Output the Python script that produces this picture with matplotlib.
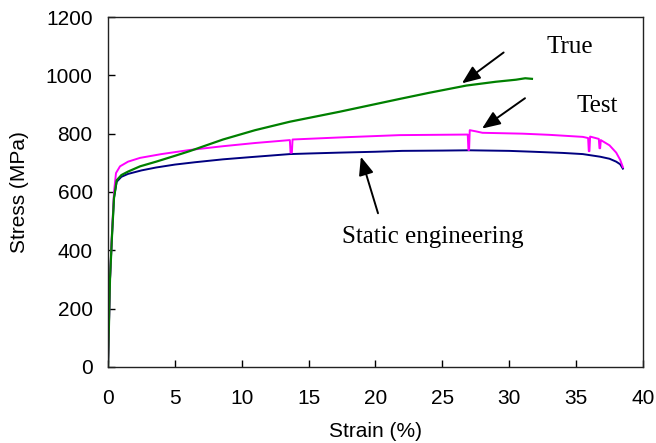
import matplotlib
matplotlib.use("Agg")
import matplotlib.pyplot as plt

# ---- data (strain %, stress MPa) ----
static_x = [0, 0.05, 0.15, 0.3, 0.45, 0.65, 1.0, 1.5, 2.5, 3.6, 5, 6.5, 8.6, 10.5, 13.6, 15,
            17.3, 20, 22, 25, 27, 30, 31.8, 34, 35.5, 36.8, 37.5, 38.0, 38.3, 38.5]
static_y = [0, 100, 300, 450, 580, 635, 652, 662, 674, 684, 694, 702, 712, 719, 730, 732,
            735, 738, 741, 742, 743, 741, 738, 734, 730, 721, 714, 704, 695, 680]

test_x = [0, 0.05, 0.15, 0.3, 0.45, 0.6, 0.9, 1.5, 2.4, 4, 6.1, 8.6, 11, 13.6, 13.65, 13.75,
          13.8, 17.3, 21.8, 26.9, 26.95, 27.0, 27.05, 27.5, 28, 31, 33, 35.5, 35.9, 35.95,
          36.0, 36.05, 36.7, 36.75, 36.8, 36.85, 37.5, 38.0, 38.3, 38.5]
test_y = [0, 100, 300, 460, 600, 665, 688, 704, 717, 730, 744, 757, 768, 778, 735, 735,
          780, 787, 795, 797, 744, 744, 812, 808, 803, 800, 796, 789, 785, 740,
          740, 790, 782, 750, 750, 778, 760, 735, 710, 685]

true_x = [0, 0.05, 0.15, 0.3, 0.45, 0.65, 1.0, 1.5, 2.4, 3.6, 5, 6.1, 8.6, 11, 13.6, 17.3,
          21.8, 24, 26.8, 29, 30.5, 31.2, 31.7]
true_y = [0, 100, 300, 450, 580, 640, 658, 670, 688, 704, 724, 740, 780, 812, 841, 875,
          919, 940, 965, 978, 985, 990, 988]

xticks = [0, 5, 10, 15, 20, 25, 30, 35, 40]
yticks = [0, 200, 400, 600, 800, 1000, 1200]

fig = plt.figure(figsize=(6.56, 4.43), dpi=100)
ax = fig.add_axes([0.1646, 0.1716, 0.8155, 0.79])

ax.plot(static_x, static_y, color="#000080", lw=1.4)
ax.plot(test_x, test_y, color="#FF00FF", lw=1.4)
ax.plot(true_x, true_y, color="#008000", lw=1.6)

ax.set_xlim(0, 40)
ax.set_ylim(0, 1200)
ax.set_xticks(xticks)
ax.set_yticks(yticks)
ax.tick_params(direction="in", length=5, width=1, labelsize=15, top=False, right=False)
ax.tick_params(axis="y", pad=11)
ax.tick_params(axis="x", pad=16)
for s in ax.spines.values():
    s.set_linewidth(1)
    s.set_color("#222222")
for lab in ax.get_xticklabels() + ax.get_yticklabels():
    lab.set_family("Liberation Sans")

ax.set_xlabel("Strain (%)", family="Liberation Sans", fontsize=15, labelpad=10)
ax.set_ylabel("Stress (MPa)", family="Liberation Sans", fontsize=15, labelpad=12)

# annotations with arrows
arrow = dict(arrowstyle="-|>,head_length=1.1,head_width=0.45", color="black", lw=1.4)
ax.annotate("", xy=(26.3, 967), xytext=(29.75, 1084), arrowprops=arrow)
ax.annotate("", xy=(27.8, 812), xytext=(31.35, 927), arrowprops=arrow)
ax.annotate("", xy=(18.85, 730), xytext=(20.25, 518), arrowprops=arrow)

ax.text(34.5, 1097, "True", family="Liberation Serif", fontsize=18, ha="center", va="center")
ax.text(36.6, 895, "Test", family="Liberation Serif", fontsize=18, ha="center", va="center")
ax.text(24.3, 445, "Static engineering", family="Liberation Serif", fontsize=18,
        ha="center", va="center")

fig.savefig("out.png", dpi=100)
